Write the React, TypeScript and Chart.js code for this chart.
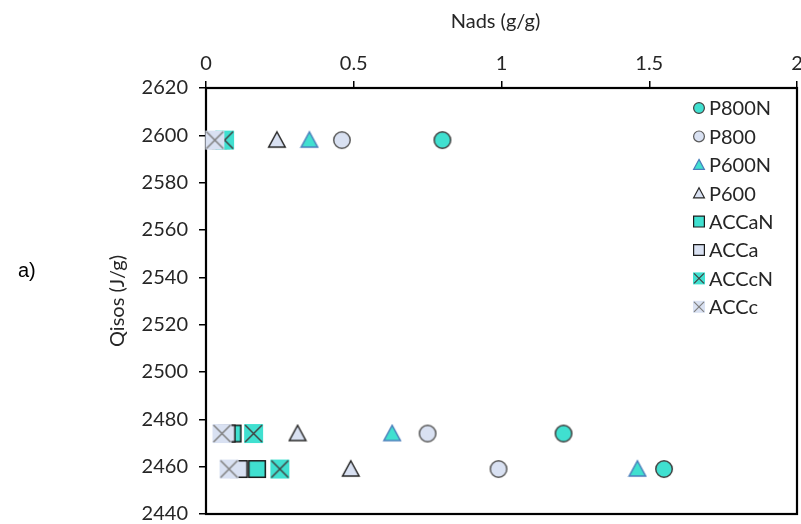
import React, { useEffect, useRef } from 'react';
import { Chart, registerables } from 'chart.js';

Chart.register(...registerables);

// ---------- data ----------
const seriesNames = ['P800N', 'P800', 'P600N', 'P600', 'ACCaN', 'ACCa', 'ACCcN', 'ACCc'];
const qisos = [2598, 2474, 2459];
const p800N = [0.8, 1.21, 1.55];
const p800 = [0.46, 0.75, 0.99];
const p600N = [0.35, 0.63, 1.46];
const p600 = [0.24, 0.31, 0.49];
const accaN = [0.05, 0.09, 0.173];
const acca = [0.04, 0.07, 0.111];
const acccN = [0.063, 0.161, 0.25];
const accc = [0.03, 0.054, 0.078];
const xTicks = [0, 0.5, 1, 1.5, 2];
const yTicks = [2440, 2460, 2480, 2500, 2520, 2540, 2560, 2580, 2600, 2620];
const xTitle = 'Nads (g/g)';
const yTitle = 'Qisos (J/g)';
const panelLabel = 'a)';

const seriesValues = [p800N, p800, p600N, p600, accaN, acca, acccN, accc];

// ---------- styles ----------
const CYAN = '#40E0D0';
const LIGHT = '#D9E1F2';
type Shape = 'circle' | 'triangle' | 'square' | 'x';
const styles: { shape: Shape; fill: string; stroke: string; size: number }[] = [
  { shape: 'circle', fill: CYAN, stroke: '#404040', size: 18 },
  { shape: 'circle', fill: LIGHT, stroke: '#595959', size: 18 },
  { shape: 'triangle', fill: CYAN, stroke: '#4A7EBB', size: 18 },
  { shape: 'triangle', fill: LIGHT, stroke: '#262626', size: 18 },
  { shape: 'square', fill: CYAN, stroke: '#1a1a1a', size: 18 },
  { shape: 'square', fill: LIGHT, stroke: '#1a1a1a', size: 18 },
  { shape: 'x', fill: CYAN, stroke: '#404040', size: 19 },
  { shape: 'x', fill: LIGHT, stroke: '#7F7F7F', size: 19 },
];

const FONT = 'Lato, "Open Sans", sans-serif';
const TEXT = '#262626';
const FS = 20;

function drawMarker(ctx: CanvasRenderingContext2D, shape: Shape, cx: number, cy: number, size: number, fill: string, stroke: string, lw: number) {
  const h = size / 2;
  ctx.save();
  ctx.lineWidth = lw;
  ctx.strokeStyle = stroke;
  ctx.fillStyle = fill;
  ctx.beginPath();
  if (shape === 'circle') {
    ctx.arc(cx, cy, h - lw / 2, 0, Math.PI * 2);
    ctx.fill();
    ctx.stroke();
  } else if (shape === 'triangle') {
    const hh = h - lw / 2;
    ctx.moveTo(cx, cy - hh);
    ctx.lineTo(cx + hh, cy + hh * 0.85);
    ctx.lineTo(cx - hh, cy + hh * 0.85);
    ctx.closePath();
    ctx.fill();
    ctx.stroke();
  } else if (shape === 'square') {
    const hh = h - lw / 2;
    ctx.rect(cx - hh, cy - hh, hh * 2, hh * 2);
    ctx.fill();
    ctx.stroke();
  } else {
    ctx.fillRect(cx - h, cy - h, size, size);
    const hh = h - 1;
    ctx.beginPath();
    ctx.moveTo(cx - hh, cy - hh);
    ctx.lineTo(cx + hh, cy + hh);
    ctx.moveTo(cx + hh, cy - hh);
    ctx.lineTo(cx - hh, cy + hh);
    ctx.stroke();
  }
  ctx.restore();
}

function makeMarker(i: number): HTMLCanvasElement {
  const s = styles[i];
  const c = document.createElement('canvas');
  c.width = s.size + 2;
  c.height = s.size + 2;
  const ctx = c.getContext('2d')!;
  drawMarker(ctx, s.shape, c.width / 2, c.height / 2, s.size, s.fill, s.stroke, 1.5);
  return c;
}

const framePlugin = {
  id: 'frame',
  beforeDatasetsDraw(chart: any) {
    const { ctx, chartArea: a } = chart;
    ctx.save();
    ctx.strokeStyle = '#000';
    ctx.lineWidth = 2.2;
    ctx.strokeRect(a.left, a.top, a.right - a.left, a.bottom - a.top);
    ctx.restore();
  },
  afterDraw(chart: any) {
    const { ctx, chartArea: a } = chart;
    ctx.save();
    // titles
    ctx.fillStyle = TEXT;
    ctx.font = `${FS}px ${FONT}`;
    ctx.textAlign = 'center';
    ctx.textBaseline = 'middle';
    ctx.fillText(xTitle, (a.left + a.right) / 2 - 6, 22);
    ctx.save();
    ctx.translate(118, (a.top + a.bottom) / 2);
    ctx.rotate(-Math.PI / 2);
    ctx.fillText(yTitle, 0, 0);
    ctx.restore();
    // panel label
    ctx.fillStyle = '#000';
    ctx.font = '20px "Liberation Sans", Arial, sans-serif';
    ctx.textAlign = 'left';
    ctx.fillText(panelLabel, 18, 271);
    // legend
    const x0 = 699;
    const y0 = 108;
    const step = 28.4;
    ctx.font = `${FS}px ${FONT}`;
    seriesNames.forEach((name, i) => {
      const s = styles[i];
      const y = y0 + i * step;
      drawMarker(ctx, s.shape, x0, y, 12, s.fill, s.stroke, 1.2);
      ctx.fillStyle = TEXT;
      ctx.textAlign = 'left';
      ctx.textBaseline = 'middle';
      ctx.fillText(name, x0 + 10, y + 1);
    });
    ctx.restore();
  },
};

export default function App() {
  const ref = useRef<HTMLCanvasElement>(null);
  useEffect(() => {
    document.body.style.margin = '0';
    const markers = styles.map((_, i) => makeMarker(i));
    const datasets = seriesNames
      .map((name, i) => ({
        label: name,
        data: seriesValues[i].map((x, j) => ({ x, y: qisos[j] })),
        pointStyle: markers[i] as any,
        pointRadius: 9,
        showLine: false,
        clip: false as any,
      }))
      .reverse(); // later series drawn on top (dataset 0 is drawn last)
    const chart = new Chart(ref.current!, {
      type: 'scatter',
      data: { datasets },
      options: {
        responsive: false,
        animation: false,
        events: [],
        layout: { autoPadding: false, padding: { left: 0, top: 0, right: 4, bottom: 10 } },
        plugins: { legend: { display: false }, tooltip: { enabled: false } },
        scales: {
          x: {
            type: 'linear',
            position: 'top',
            min: 0,
            max: 2,
            afterBuildTicks: (s: any) => {
              s.ticks = xTicks.map((v) => ({ value: v }));
            },
            afterFit: (s: any) => {
              s.height = 88;
              s.paddingLeft = 0;
              s.paddingRight = 0;
            },
            ticks: {
              color: TEXT,
              font: { family: FONT, size: FS },
              padding: 5,
              callback: (v: any) => String(v),
            },
            grid: { drawOnChartArea: false, drawTicks: true, tickLength: 7, color: '#000', lineWidth: 1.5 },
            border: { display: false },
          },
          y: {
            type: 'linear',
            min: 2440,
            max: 2620,
            afterBuildTicks: (s: any) => {
              s.ticks = yTicks.map((v) => ({ value: v }));
            },
            afterFit: (s: any) => {
              s.width = 206;
              s.paddingTop = 0;
              s.paddingBottom = 0;
            },
            ticks: {
              color: TEXT,
              font: { family: FONT, size: FS },
              padding: 11,
              callback: (v: any) => String(v),
            },
            grid: { drawOnChartArea: false, drawTicks: true, tickLength: 7, color: '#000', lineWidth: 1.5 },
            border: { display: false },
          },
        },
      },
      plugins: [framePlugin],
    });
    return () => chart.destroy();
  }, []);
  return <canvas ref={ref} width={801} height={524} style={{ display: 'block' }} />;
}
